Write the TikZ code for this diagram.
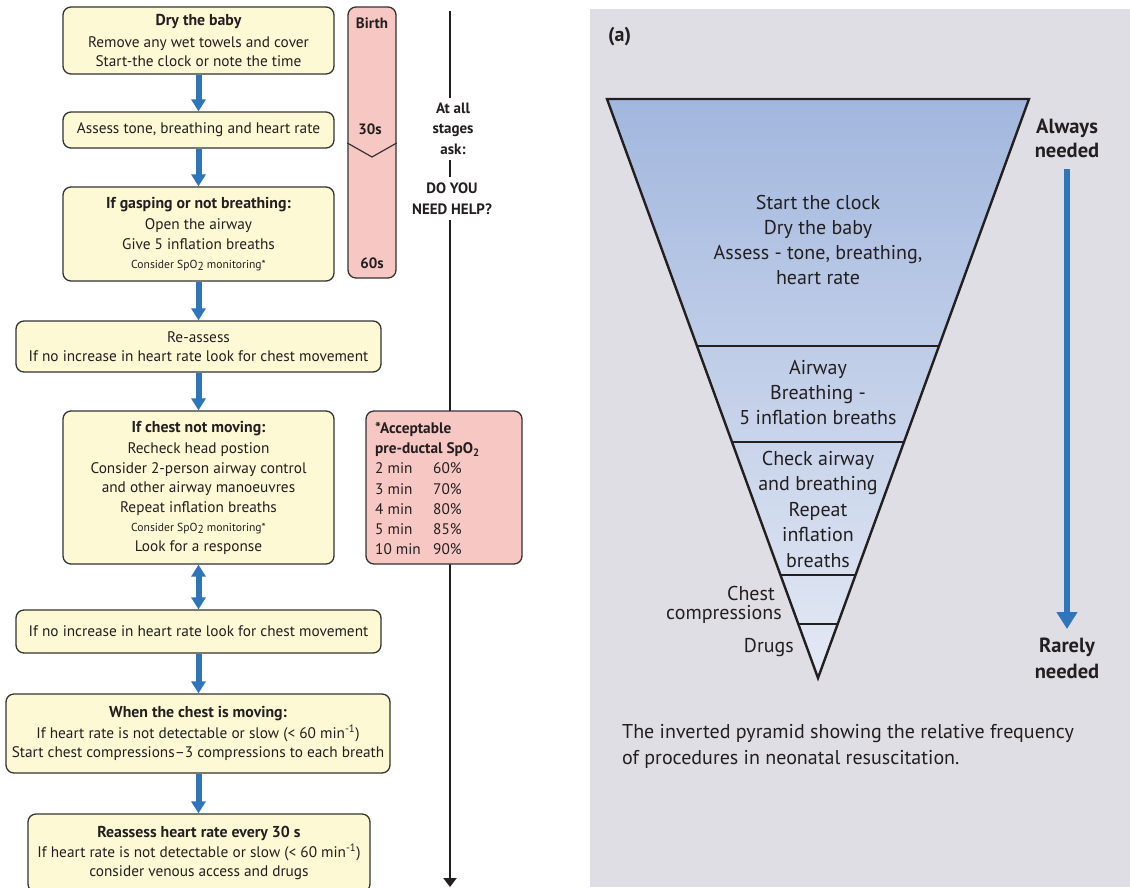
\documentclass[tikz,border=0pt]{standalone}
\usepackage{fontspec}
\setmainfont{PT Sans}
\usetikzlibrary{arrows.meta,calc}
\definecolor{boxfill}{HTML}{FEF9D5}
\definecolor{boxline}{HTML}{333333}
\definecolor{pinkfill}{HTML}{F7C7C3}
\definecolor{bluearr}{HTML}{2E75B9}
\definecolor{panel}{HTML}{E0DEE5}
\definecolor{txt}{HTML}{231F20}
\definecolor{pyrtop}{HTML}{A2B7DE}
\definecolor{pyrbot}{HTML}{E4E9F4}
\newcommand{\smalltxt}[1]{{\fontsize{11.6}{15}\selectfont #1}}
\newcommand{\bhead}[1]{{\fontsize{15.8}{19.5}\selectfont\bfseries #1}}
\begin{document}
\begin{tikzpicture}[x=1pt,y=-1pt,
  every node/.style={text=txt},
  fbox/.style={draw=boxline, line width=1.3pt, fill=boxfill, rounded corners=8pt,
    inner sep=0pt, align=center, font=\fontsize{15.3}{19.5}\selectfont},
  pbox/.style={draw=boxline, line width=1.3pt, fill=pinkfill, rounded corners=8pt, inner sep=0pt},
  flow/.style={draw=bluearr, line width=6pt, -{Triangle[width=14pt,length=12pt]}},
  flowboth/.style={draw=bluearr, line width=6pt, {Triangle[width=14pt,length=12pt]}-{Triangle[width=14pt,length=12pt]}},
  tline/.style={draw=txt, line width=2.5pt},
  lbl/.style={font=\bfseries\fontsize{15}{20.5}\selectfont, align=center, inner sep=0pt},
  pyr/.style={font=\fontsize{20}{25}\selectfont, align=center, inner sep=0pt}
]
\useasboundingbox (0,0) rectangle (1130,887);
\fill[white] (0,0) rectangle (1130,887);
\fill[panel] (590,9) rectangle (1130,887);

% ---------- timeline (behind the SpO2 box) ----------
\node[lbl] (ask) at (453,128.5) {At all\\stages\\ask:};
\node[lbl] (help) at (452,198.5) {DO YOU\\NEED HELP?};
\coordinate (t0) at (450,11);
\coordinate (t1) at (450,98);
\coordinate (t2) at (450,160);
\coordinate (t3) at (450,177);
\coordinate (t4) at (450,220);
\coordinate (t5) at (450,887);
\draw[tline] (t0) -- (t1);
\draw[tline] (t2) -- (t3);
\draw[tline, -{Triangle[width=13pt,length=9pt]}] (t4) -- (t5);

% ---------- left flow chart ----------
\node[fbox, minimum width=271pt, minimum height=67pt] (b1) at (198.5,40.5)
  {\bhead{Dry the baby}\\[2pt] Remove any wet towels and cover\\ Start-the clock or note the time};
\node[fbox, minimum width=271pt, minimum height=36pt] (b2) at (198.5,130)
  {Assess tone, breathing and heart rate};
\node[fbox, minimum width=271pt, minimum height=94pt] (b3) at (198.5,234)
  {\bhead{If gasping or not breathing:}\\[2pt] Open the airway\\ Give 5 inflation breaths\\ \smalltxt{Consider SpO\raisebox{-1.5pt}{2} monitoring*}};
\node[fbox, minimum width=365pt, minimum height=51pt] (b4) at (198.5,346.5)
  {Re-assess\\ If no increase in heart rate look for chest movement};
\node[fbox, minimum width=271pt, minimum height=153pt] (b5) at (198.5,487.5)
  {\bhead{If chest not moving:}\\[2pt] Recheck head postion\\ Consider 2-person airway control\\ and other airway manoeuvres\\ Repeat inflation breaths\\ \smalltxt{Consider SpO\raisebox{-1.5pt}{2} monitoring*}\\ Look for a response};
\node[fbox, minimum width=365pt, minimum height=43pt] (b6) at (198.5,631.5)
  {If no increase in heart rate look for chest movement};
\node[fbox, minimum width=384pt, minimum height=79pt] (b7) at (198,733.5)
  {\bhead{When the chest is moving:}\\[1pt] If heart rate is not detectable or slow (< 60 min\textsuperscript{-1})\\ Start chest compressions–3 compressions to each breath};
\node[fbox, minimum width=342pt, minimum height=78pt] (b8) at (199,853)
  {\bhead{Reassess heart rate every 30 s}\\ If heart rate is not detectable or slow (< 60 min\textsuperscript{-1})\\ consider venous access and drugs};

\draw[flow] (b1.south) -- (b1.south |- b2.north);
\draw[flow] (b2.south) -- (b2.south |- b3.north);
\draw[flow] (b3.south) -- (b3.south |- b4.north);
\draw[flow] (b4.south) -- (b4.south |- b5.north);
\draw[flowboth] (b5.south) -- (b5.south |- b6.north);
\draw[flow] (b6.south) -- (b6.south |- b7.north);
\draw[flow] (b7.south -| b6.south) -- (b6.south |- b8.north);

% time column
\node[pbox, minimum width=48pt, minimum height=271pt] (birth) at (372,142.5) {};
\draw[boxline, line width=1.2pt] (birth.west |- 0,143) -- (372,157) -- (birth.east |- 0,143);
\node[lbl] (tb) at (372,23) {Birth};
\node[lbl] (t30) at (370,129) {30s};
\node[lbl] (t60) at (372,263) {60s};

% SpO2 box
\node[pbox, minimum width=156pt, minimum height=153pt] (spo) at (444,487.5) {};
\node[anchor=west, inner sep=0pt, align=left, font=\fontsize{15.3}{20.3}\selectfont] (spot) at (375,488.5)
  {\textbf{*Acceptable}\\ \textbf{pre-ductal SpO\textsubscript{2}}\\
   \makebox[58pt][l]{2 min}60\%\\ \makebox[58pt][l]{3 min}70\%\\ \makebox[58pt][l]{4 min}80\%\\
   \makebox[58pt][l]{5 min}85\%\\ \makebox[58pt][l]{10 min}90\%};

% ---------- right panel ----------
\node[anchor=west, inner sep=0pt, font=\bfseries\fontsize{20}{22}\selectfont] (lab) at (608,37) {(a)};

\coordinate (TL) at (607,99);
\coordinate (TR) at (1029,99);
\coordinate (AP) at (818,678);
\shade[top color=pyrtop, bottom color=pyrbot] (TL) -- (TR) -- (AP) -- cycle;
\foreach \f in {247,343,476,525}{
  \draw[txt, line width=1.4pt] ($(TL)!{\f/579}!(AP)$) -- ($(TR)!{\f/579}!(AP)$);
}
\draw[txt, line width=2.4pt, line join=miter] (TL) -- (TR) -- (AP) -- cycle;

\node[pyr] (p1) at (818,239.5) {Start the clock\\Dry the baby\\Assess - tone, breathing,\\heart rate};
\node[pyr] (p2) at (818,393) {Airway\\Breathing -\\5 inflation breaths};
\node[pyr, font=\fontsize{20}{25.5}\selectfont] (p3) at (818,509) {Check airway\\and breathing\\Repeat\\inflation\\breaths};
\node[pyr, anchor=east] (p4) at (775,593) {Chest};
\node[pyr, anchor=east] (p5) at (782,614) {compressions};
\node[pyr, anchor=east] (p6) at (794,648) {Drugs};

\node[pyr, font=\bfseries\fontsize{20.5}{24}\selectfont] (always) at (1067,138) {Always\\needed};
\node[pyr, font=\bfseries\fontsize{20.5}{26}\selectfont] (rarely) at (1067,658) {Rarely\\needed};
\coordinate (ar1) at (1067,169);
\coordinate (ar2) at (1067,629);
\draw[draw=bluearr, line width=6pt, -{Triangle[width=20pt,length=17pt]}] (ar1) -- (ar2);

\node[pyr, anchor=west, align=left, font=\fontsize{20}{26}\selectfont] (cap) at (622,746)
  {The inverted pyramid showing the relative frequency\\of procedures in neonatal resuscitation.};
\end{tikzpicture}
\end{document}
